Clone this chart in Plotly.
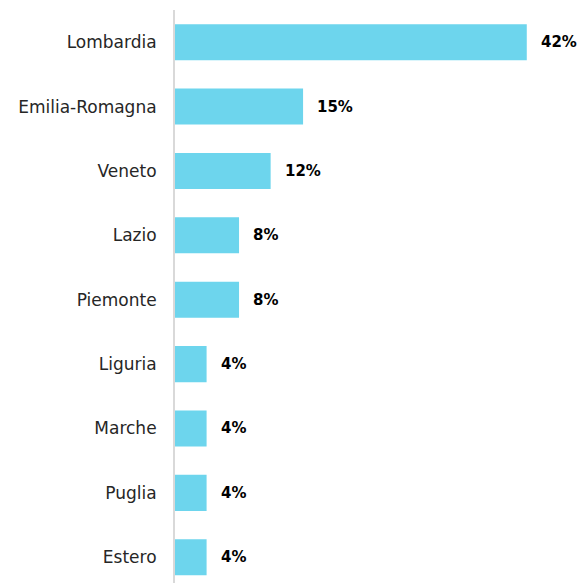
import plotly.graph_objects as go

regions = ["Lombardia", "Emilia-Romagna", "Veneto", "Lazio", "Piemonte",
           "Liguria", "Marche", "Puglia", "Estero"]
shares = [42.3, 15.4, 11.5, 7.7, 7.7, 3.8, 3.8, 3.8, 3.8]
labels = ["42%", "15%", "12%", "8%", "8%", "4%", "4%", "4%", "4%"]

fig = go.Figure()
fig.add_trace(go.Bar(
    y=list(range(len(regions))), x=shares, orientation="h",
    marker=dict(color="#6DD5ED", line=dict(width=0)),
    width=0.56, hoverinfo="skip",
))

for i, (v, t) in enumerate(zip(shares, labels)):
    fig.add_annotation(x=v, y=i, text="<b>" + t + "</b>", showarrow=False,
                       xanchor="left", yanchor="middle", xshift=12,
                       font=dict(family="DejaVu Sans, sans-serif", size=15, color="#000000"))

fig.update_layout(
    width=577, height=575,
    margin=dict(l=167, r=0, t=2, b=0),
    paper_bgcolor="white", plot_bgcolor="white",
    showlegend=False,
    font=dict(family="DejaVu Sans, sans-serif", size=17, color="#262626"),
    xaxis=dict(range=[0, 49.3], visible=False, fixedrange=True),
    yaxis=dict(range=[8.4, -0.5], tickmode="array",
               tickvals=list(range(len(regions))), ticktext=regions,
               showline=True, linecolor="#D9D9D9", linewidth=2,
               showgrid=False, zeroline=False, ticks="",
               ticklabelstandoff=13, fixedrange=True),
)

fig.write_html("out.html")
